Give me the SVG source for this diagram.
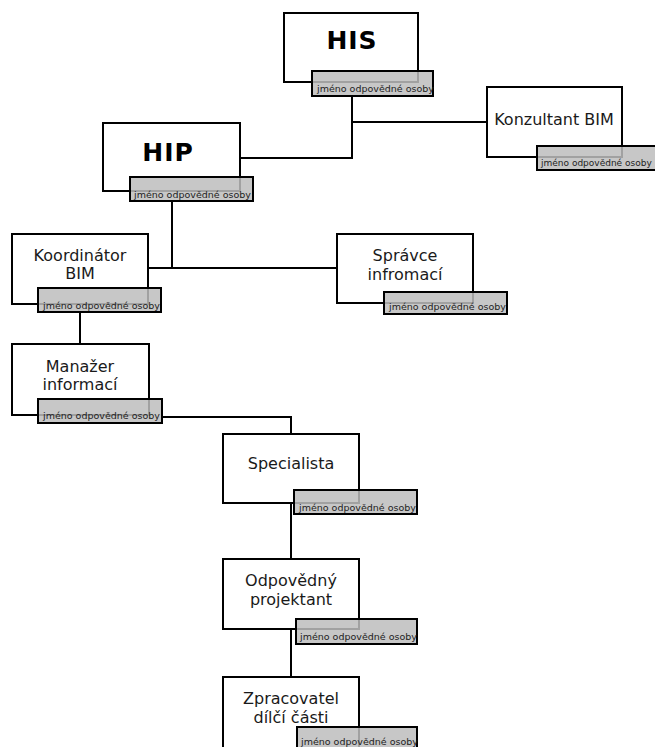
<svg xmlns="http://www.w3.org/2000/svg" width="655" height="747" viewBox="0 0 655 747">
<style>
.box{fill:#fff;stroke:#000;stroke-width:2}
.tag{fill:#bdbdbd;fill-opacity:0.85;stroke:#000;stroke-width:2}
.lbl{font-family:"DejaVu Sans",Verdana,sans-serif;font-size:16px;fill:#1a1a1a;text-anchor:middle}
.big{font-family:"DejaVu Sans",Verdana,sans-serif;font-size:25px;font-weight:bold;fill:#000;text-anchor:middle;letter-spacing:1px}
.nm{font-family:"DejaVu Sans",Verdana,sans-serif;font-size:9.5px;fill:#222}
.ln{fill:none;stroke:#000;stroke-width:2}
</style>
<rect width="655" height="747" fill="#fff"/>
<g id="connectors">
<polyline class="ln" points="352,96 352,158 240,158"/>
<line class="ln" x1="352" y1="122" x2="487" y2="122"/>
<line class="ln" x1="172" y1="201" x2="172" y2="268"/>
<line class="ln" x1="148" y1="268" x2="337" y2="268"/>
<line class="ln" x1="80" y1="312" x2="80" y2="344"/>
<polyline class="ln" points="162,417 291,417 291,434"/>
<line class="ln" x1="291" y1="503" x2="291" y2="559"/>
<line class="ln" x1="291" y1="629" x2="291" y2="677"/>
</g>
<g id="his">
<rect class="box" x="284" y="13" width="134" height="69"/>
<text class="big" x="352" y="49">HIS</text>
<rect class="tag" x="312" y="71" width="121" height="25"/>
<text class="nm" x="317" y="92">jméno odpovědné osoby</text>
</g>
<g id="konzultant">
<rect class="box" x="487" y="87" width="135" height="70"/>
<text class="lbl" x="554" y="125">Konzultant BIM</text>
<rect class="tag" x="537" y="146" width="124" height="24"/>
<text class="nm" x="541" y="166" style="font-size:9px">jméno odpovědné osoby</text>
</g>
<g id="hip">
<rect class="box" x="103" y="123" width="137" height="68"/>
<text class="big" x="168" y="161">HIP</text>
<rect class="tag" x="130" y="177" width="123" height="24"/>
<text class="nm" x="134" y="197.5">jméno odpovědné osoby</text>
</g>
<g id="koordinator">
<rect class="box" x="12" y="234" width="136" height="70"/>
<text class="lbl" x="80" y="260.5">Koordinátor</text>
<text class="lbl" x="80" y="279.3">BIM</text>
<rect class="tag" x="38" y="288" width="123" height="24"/>
<text class="nm" x="43" y="308.5">jméno odpovědné osoby</text>
</g>
<g id="spravce">
<rect class="box" x="337" y="234" width="136" height="69"/>
<text class="lbl" x="405" y="261">Správce</text>
<text class="lbl" x="405" y="279.8">infromací</text>
<rect class="tag" x="384" y="292" width="123" height="22"/>
<text class="nm" x="389" y="309.5">jméno odpovědné osoby</text>
</g>
<g id="manazer">
<rect class="box" x="12" y="344" width="137" height="71"/>
<text class="lbl" x="80" y="371.5">Manažer</text>
<text class="lbl" x="80" y="390.3">informací</text>
<rect class="tag" x="38" y="399" width="124" height="24"/>
<text class="nm" x="43" y="419">jméno odpovědné osoby</text>
</g>
<g id="specialista">
<rect class="box" x="223" y="434" width="136" height="69"/>
<text class="lbl" x="291" y="469">Specialista</text>
<rect class="tag" x="294" y="490" width="123" height="24"/>
<text class="nm" x="299" y="510.5">jméno odpovědné osoby</text>
</g>
<g id="odpovedny">
<rect class="box" x="223" y="559" width="136" height="70"/>
<text class="lbl" x="291" y="586">Odpovědný</text>
<text class="lbl" x="291" y="604.8">projektant</text>
<rect class="tag" x="296" y="619" width="121" height="25"/>
<text class="nm" x="300" y="640">jméno odpovědné osoby</text>
</g>
<g id="zpracovatel">
<rect class="box" x="223" y="677" width="136" height="75"/>
<text class="lbl" x="291" y="704">Zpracovatel</text>
<text class="lbl" x="291" y="722.8">dílčí části</text>
<rect class="tag" x="297" y="727" width="120" height="25"/>
<text class="nm" x="301" y="744.5">jméno odpovědné osoby</text>
</g>
</svg>
